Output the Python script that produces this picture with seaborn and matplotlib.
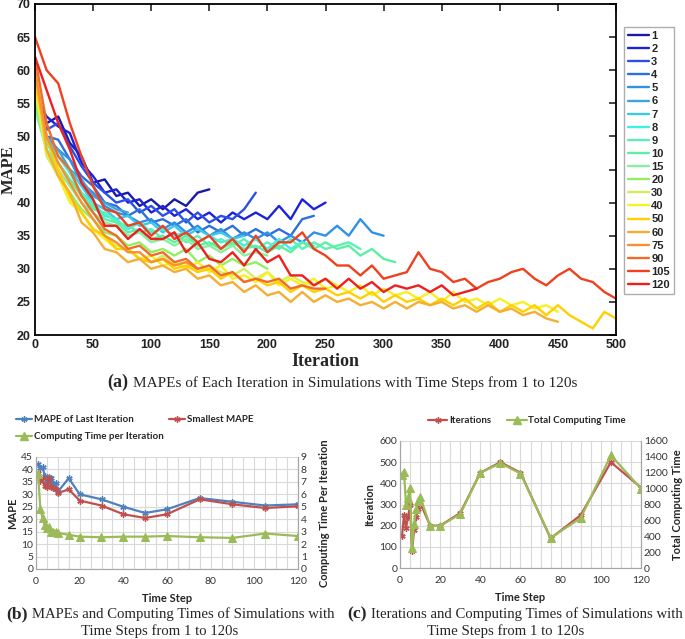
import numpy as np
import pandas as pd
import seaborn as sns
import matplotlib.pyplot as plt
from matplotlib.ticker import MultipleLocator
from matplotlib.lines import Line2D

# ---- panel (a): MAPE per iteration, one series per time step (sampled every 10 iterations)
time_steps = [1, 2, 3, 4, 5, 6, 7, 8, 9, 10, 15, 20, 30, 40, 50, 60, 75, 90, 105, 120]
step_colors = ["#1a1aa8", "#1e22d8", "#2a50e6", "#2f6fdc", "#2f92e6", "#3ea6d6", "#3cc8e6",
               "#3cf0e4", "#5cf0b8", "#5ef0a2", "#86f0a0", "#92f060", "#d2f05c", "#f8f020",
               "#ffd000", "#f6ae30", "#f89030", "#f06c2c", "#f0401e", "#f01e1e"]
sample_every = 10

mape_1 = [57, 52, 53, 49, 47, 43, 43.5, 41, 41.5, 39.5, 40.5, 39, 40.5, 39.5, 41.5, 42]
mape_2 = [56, 53, 51.5, 50.5, 46, 44, 41.5, 42, 40, 40.5, 38.5, 39.5, 38, 39, 37.5, 38.5,
          37, 38.5, 37.5, 38.5, 37.5, 39.5, 37.5, 40.5, 39, 40]
mape_3 = [56, 51, 52, 48.5, 45.5, 43, 41.5, 40, 40.5, 38.5, 39.5, 38, 39, 37, 38.5, 37, 38,
          37.5, 39, 41.5]
mape_4 = [56, 50, 49.5, 46.5, 44, 42.5, 40, 39.5, 38, 39, 37, 37.5, 36.5, 37.5, 35.5, 36.5,
          35.5, 36.5, 35, 36, 35, 36, 35, 37.5, 38]
mape_5 = [55, 50, 48, 46.5, 43, 41.5, 39.5, 38.5, 38, 37, 37.5, 36, 37, 35.5, 36.5, 35, 36,
          34.5, 35.5, 34.5, 35.5, 34, 35, 34, 35.5, 35, 36.5, 35, 37.5, 35.5, 35]
mape_6 = [55, 49, 48, 45, 43.5, 41, 40, 39, 38.5]
mape_7 = [54, 50, 47, 45, 42.5, 40, 39, 37.5, 38, 36.5, 37, 35.5, 36.5, 35, 36, 35, 35.5,
          34.5, 35]
mape_8 = [55, 49, 47, 44.5, 41.5, 40, 38, 37.5, 36, 37, 35.5, 36, 35, 35.5, 34, 35, 34, 34.5,
          33.5, 34.5, 33, 34.5, 33, 34, 33.5]
mape_9 = [54, 49, 46, 43.5, 41.5, 39, 38.5, 37, 36.5, 35.5, 36, 34.5, 35.5, 34, 35, 33.5,
          34.5, 33.5, 34.5, 33, 34, 33, 34.5, 33, 34, 33, 33.5, 34, 33]
mape_10 = [55, 48, 46, 43.5, 41, 39.5, 37.5, 37, 35.5, 36, 34.5, 35, 34, 35, 33.5, 34, 33,
           34, 33, 33.5, 32.5, 33.5, 32.5, 34, 33, 34, 33, 33.5, 32, 33, 31.5, 31]
mape_15 = [54, 48, 45, 42.5, 40, 38.5, 37, 36.5, 35, 35.5, 34, 34.5, 33.5, 34.5, 33, 33.5,
           32.5, 33.5, 32, 32.5, 32]
mape_20 = [56, 48, 44, 41.5, 39, 37.5, 35.5, 35, 33.5, 34, 32.5, 33, 32, 33, 31, 32, 30.5,
           31.5, 30.5, 31, 30]
mape_30 = [57, 47, 44, 40.5, 38.5, 36, 35, 33.5, 33, 31.5, 31, 32, 30.5, 31, 29.5, 30.5,
           29.5, 29, 30, 28.5, 29.5, 28, 29, 28, 27.5, 28.5, 27.5]
mape_40 = [58, 48, 44, 40, 38.5, 36, 34.5, 33, 33, 31.5, 32, 30.5, 31, 30, 31, 29.5, 30.5,
           28.5, 29, 28, 29.5, 27.5, 28.5, 27.5, 28.5, 27, 27.5, 26.5, 27.5, 26, 27, 26,
           26.5, 25.5, 26.5, 25, 26.5, 25, 25.5, 24.5, 25.5, 24.5, 25, 24, 24.5, 23.5]
mape_50 = [58, 50, 45, 41, 38.5, 36, 35, 33, 33, 31.5, 31, 31.5, 30, 30.5, 29.5, 30, 28.5,
           29.5, 28, 28.5, 27.5, 28, 26.5, 27.5, 26.5, 27, 26, 26.5, 25.5, 26.5, 25, 26, 25,
           25.5, 24.5, 25.5, 24.5, 25.5, 24, 25, 23.5, 24.5, 23.5, 24.5, 23, 24.5, 23, 22,
           21, 23.5, 22.5]
mape_60 = [60, 48, 44, 41.5, 37, 35.5, 33, 32.5, 31, 31.5, 30, 30.5, 29.5, 30, 28.5, 29,
           27.5, 28, 26.5, 27.5, 26, 26.5, 25, 26.5, 25, 26, 25, 25.5, 24.5, 25, 24, 25, 24,
           25, 24.5, 25, 24, 24.5, 23.5, 24.5, 23.5, 24, 23, 23.5, 22.5, 22]
mape_75 = [60, 50, 46, 43, 40, 37.5, 35, 34, 32.5, 32.5, 31, 31.5, 30.5, 31, 30]
mape_90 = [62, 52, 47, 45, 41, 38.5, 36, 35, 33, 33.5, 32, 32.5, 31, 31.5, 30, 30.5, 29,
           29.5, 28, 28.5, 28, 28.5, 27, 27.5, 27, 27]
mape_105 = [65, 60, 58, 52, 47, 42.5, 39, 38.5, 36.5, 37, 35, 36.5, 34.5, 35.5, 34, 35, 33,
            34.5, 32.5, 35, 32.5, 34, 34, 35.5, 33, 32, 30.5, 30.5, 29, 30.5, 28.5, 29,
            29.5, 32.5, 30, 29.5, 28, 28.5, 27, 28, 28.5, 29.5, 30, 28.5, 27.5, 29, 30,
            28.5, 28, 26.5, 25.5]
mape_120 = [62, 57, 52, 48, 43, 40.5, 36.5, 36.5, 34.5, 36, 34.5, 34.5, 35.5, 32.5, 34,
            31.5, 31, 32.5, 30.5, 33, 31, 32, 29, 29, 27.5, 28.5, 27, 28.5, 27, 28, 26.5,
            27.5, 27, 27.5, 26.5, 27.5, 26, 26.5, 27]

all_mape = [mape_1, mape_2, mape_3, mape_4, mape_5, mape_6, mape_7, mape_8, mape_9, mape_10,
            mape_15, mape_20, mape_30, mape_40, mape_50, mape_60, mape_75, mape_90, mape_105,
            mape_120]

# ---- panels (b) and (c): summary per time step
mape_last = [42, 40.5, 41, 37.5, 34, 37, 36.5, 34, 34.5, 31, 36.5, 30, 28, 25, 22.5, 24,
             28.5, 27, 25.5, 26]
mape_smallest = [38.5, 35.5, 36.5, 33.5, 33, 36.5, 33, 32.5, 32, 30.5, 32, 27.5, 25.5, 22,
                 20.5, 22, 28, 26, 24.5, 25.2]
time_per_iter = [7.6, 4.8, 4.1, 3.5, 3.3, 3.4, 3.0, 3.0, 3.0, 2.9, 2.75, 2.6, 2.55, 2.6, 2.6,
                 2.65, 2.55, 2.5, 2.85, 2.65]
iterations = [150, 250, 190, 240, 300, 80, 180, 240, 280, 310, 200, 200, 260, 450, 500, 450,
              140, 250, 500, 380]
total_time = [1170, 1210, 790, 880, 1010, 250, 550, 740, 840, 900, 530, 530, 680, 1200, 1320,
              1190, 380, 630, 1420, 1000]

XL_BLUE, XL_RED, XL_GREEN = "#4f81bd", "#c0504d", "#9bbb59"
SERIF = "Liberation Serif"
SANS = "Liberation Sans"
XLFONT = "Lato"

sns.set_style("white")
W, H = 685, 639
fig = plt.figure(figsize=(W / 100, H / 100), dpi=100)


def box(l, t, r, b):
    return [l / W, 1 - b / H, (r - l) / W, (b - t) / H]


# ================= panel (a)
rows = []
for step, vals in zip(time_steps, all_mape):
    for k, v in enumerate(vals):
        rows.append((str(step), k * sample_every, v))
df_a = pd.DataFrame(rows, columns=["Step", "Iteration", "MAPE"])

ax_a = fig.add_axes(box(35, 4, 616, 335))
sns.lineplot(data=df_a, x="Iteration", y="MAPE", hue="Step",
             hue_order=[str(s) for s in time_steps],
             palette=dict(zip([str(s) for s in time_steps], step_colors)),
             estimator=None, sort=False, lw=1.7, ax=ax_a)
ax_a.set_xlim(0, 500)
ax_a.set_ylim(20, 70)
ax_a.xaxis.set_major_locator(MultipleLocator(50))
ax_a.yaxis.set_major_locator(MultipleLocator(5))
ax_a.tick_params(direction="in", top=True, right=True, length=5, width=1.2, pad=3,
                 labelsize=9)
for lab in ax_a.get_xticklabels() + ax_a.get_yticklabels():
    lab.set_fontfamily(SANS)
    lab.set_fontweight("bold")
    lab.set_color("#222222")
for sp in ax_a.spines.values():
    sp.set_linewidth(1.3)
    sp.set_color("black")
ax_a.set_xlabel("Iteration", family=SERIF, fontweight="bold", fontsize=13, labelpad=1)
ax_a.set_ylabel("MAPE", family=SERIF, fontweight="bold", fontsize=12)
ax_a.yaxis.set_label_coords(-18 / 581, 0.5)

handles, labels = ax_a.get_legend_handles_labels()
ax_a.legend(handles, labels, loc="upper left", bbox_to_anchor=(624 / W, 1 - 27 / H),
            bbox_transform=fig.transFigure, frameon=True, fancybox=False,
            edgecolor="#9a9a9a", handlelength=1.9, handletextpad=0.2, labelspacing=0.28,
            borderpad=0.35, borderaxespad=0,
            prop={"family": SANS, "weight": "bold", "size": 8})
ax_a.get_legend().get_frame().set_linewidth(1.0)


def caption(ax, tag, text, cx, base_y, size=11):
    t = fig.text(cx / W, 1 - base_y / H, text, ha="center", va="baseline",
                 family=SERIF, fontsize=size)
    ax.annotate(tag, xy=(0, 1 - base_y / H), xycoords=(t, "figure fraction"),
                xytext=(-3, 0), textcoords="offset points", ha="right", va="baseline",
                family=SERIF, fontweight="bold", fontsize=size + 2, annotation_clip=False)
    return t


caption(ax_a, "(a)", "MAPEs of Each Iteration in Simulations with Time Steps from 1 to 120s",
        355, 387)


def excel_style(ax, ax2):
    ax.grid(True, which="both", axis="x", color="#d9d9d9", lw=0.8)
    ax.grid(True, which="major", axis="y", color="#d9d9d9", lw=0.8)
    ax.xaxis.set_minor_locator(MultipleLocator(5))
    ax.set_axisbelow(True)
    for a in (ax, ax2):
        a.tick_params(which="both", length=0, labelsize=7.5, colors="#333333", pad=2)
        a.tick_params(axis="x", pad=6)
        for lab in a.get_xticklabels() + a.get_yticklabels():
            lab.set_fontfamily(XLFONT)
        for name, sp in a.spines.items():
            sp.set_color("#a6a6a6")
            sp.set_linewidth(0.8)
            if name == "top":
                sp.set_visible(False)


# ================= panel (b)
df_b = pd.DataFrame({"Time Step": time_steps, "last": mape_last, "small": mape_smallest,
                     "tpi": time_per_iter})
ax_b = fig.add_axes(box(36, 457, 298, 569))
ax_b2 = ax_b.twinx()
sns.lineplot(data=df_b, x="Time Step", y="last", color=XL_BLUE, lw=1.6, marker=(6, 2, 0),
             markersize=4.5, markeredgecolor=XL_BLUE, markeredgewidth=1, ax=ax_b)
sns.lineplot(data=df_b, x="Time Step", y="small", color=XL_RED, lw=1.6, marker=(6, 2, 0),
             markersize=4.5, markeredgecolor=XL_RED, markeredgewidth=1, ax=ax_b)
sns.lineplot(data=df_b, x="Time Step", y="tpi", color=XL_GREEN, lw=1.6, marker="^",
             markersize=6, markeredgecolor=XL_GREEN, ax=ax_b2)
ax_b.set_xlim(0, 120)
ax_b.set_ylim(0, 45)
ax_b2.set_ylim(0, 9)
ax_b.xaxis.set_major_locator(MultipleLocator(20))
ax_b.yaxis.set_major_locator(MultipleLocator(5))
ax_b2.yaxis.set_major_locator(MultipleLocator(1))
excel_style(ax_b, ax_b2)
ax_b.set_xlabel("Time Step", family=XLFONT, fontweight="bold", fontsize=8, labelpad=5)
ax_b.set_ylabel("MAPE", family=XLFONT, fontweight="bold", fontsize=8, labelpad=2)
ax_b2.set_ylabel("Computing Time Per Iteration", family=XLFONT, fontweight="bold",
                 fontsize=8, labelpad=9)

lh = [Line2D([], [], color=XL_BLUE, lw=1.6, marker=(6, 2, 0), ms=4.5),
      Line2D([], [], color=XL_GREEN, lw=1.6, marker="^", ms=6),
      Line2D([], [], color=XL_RED, lw=1.6, marker=(6, 2, 0), ms=4.5)]
ax_b.legend(lh, ["MAPE of Last Iteration", "Computing Time per Iteration", "Smallest MAPE"],
            ncol=2, loc="upper left", bbox_to_anchor=(16 / W, 1 - 415 / H),
            bbox_transform=fig.transFigure, frameon=False, handlelength=1.6,
            handletextpad=0.2, columnspacing=0.6, labelspacing=0.85, borderpad=0,
            borderaxespad=0, prop={"family": XLFONT, "weight": "bold", "size": 7})
caption(ax_b, "(b)", "MAPEs and Computing Times of Simulations with", 183, 618, size=10.6)
fig.text(160 / W, 1 - 635 / H, "Time Steps from 1 to 120s", ha="center", va="baseline",
         family=SERIF, fontsize=10.6)

# ================= panel (c)
df_c = pd.DataFrame({"Time Step": time_steps, "iters": iterations, "total": total_time})
ax_c = fig.add_axes(box(400, 441, 641, 568))
ax_c2 = ax_c.twinx()
sns.lineplot(data=df_c, x="Time Step", y="iters", color=XL_RED, lw=1.6, marker=(6, 2, 0),
             markersize=4.5, markeredgecolor=XL_RED, markeredgewidth=1, ax=ax_c)
sns.lineplot(data=df_c, x="Time Step", y="total", color=XL_GREEN, lw=1.6, marker="^",
             markersize=6, markeredgecolor=XL_GREEN, ax=ax_c2)
ax_c.set_xlim(0, 120)
ax_c.set_ylim(0, 600)
ax_c2.set_ylim(0, 1600)
ax_c.xaxis.set_major_locator(MultipleLocator(20))
ax_c.yaxis.set_major_locator(MultipleLocator(100))
ax_c2.yaxis.set_major_locator(MultipleLocator(200))
excel_style(ax_c, ax_c2)
ax_c.set_xlabel("Time Step", family=XLFONT, fontweight="bold", fontsize=8, labelpad=5)
ax_c.set_ylabel("Iteration", family=XLFONT, fontweight="bold", fontsize=8, labelpad=3)
ax_c2.set_ylabel("Total Computing Time", family=XLFONT, fontweight="bold", fontsize=8,
                 labelpad=3)
lh_c = [Line2D([], [], color=XL_RED, lw=1.6, marker=(6, 2, 0), ms=4.5),
        Line2D([], [], color=XL_GREEN, lw=1.6, marker="^", ms=6)]
ax_c.legend(lh_c, ["Iterations", "Total Computing Time"], ncol=2, loc="upper left",
            bbox_to_anchor=(428 / W, 1 - 416 / H), bbox_transform=fig.transFigure,
            frameon=False, handlelength=2.0, handletextpad=0.2, columnspacing=1.6,
            borderpad=0, borderaxespad=0,
            prop={"family": XLFONT, "weight": "bold", "size": 7})
caption(ax_c, "(c)", "Iterations and Computing Times of Simulations with", 527, 618,
        size=10.6)
fig.text(506 / W, 1 - 635 / H, "Time Steps from 1 to 120s", ha="center", va="baseline",
         family=SERIF, fontsize=10.6)

fig.savefig("out.png", dpi=100)
